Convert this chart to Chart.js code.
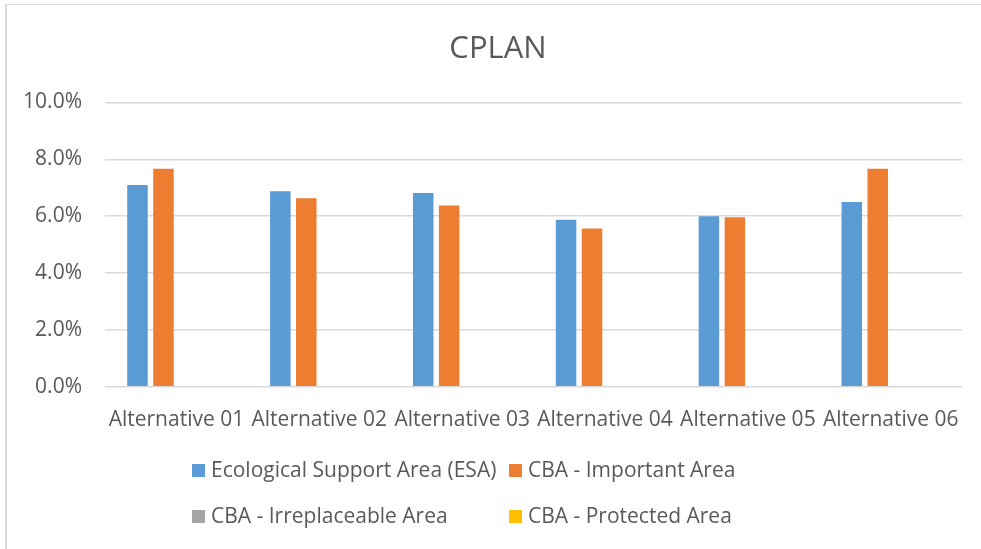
<!DOCTYPE html>
<html>
<head>
<meta charset="utf-8">
<script src="https://cdn.jsdelivr.net/npm/chart.js@4/dist/chart.umd.min.js"></script>
<style>
  html, body { margin: 0; padding: 0; background: #ffffff; }
  #wrap { position: absolute; left: 0; top: 0; width: 981px; height: 549px; }
</style>
</head>
<body>
<div id="wrap"><canvas id="c" width="981" height="549"></canvas></div>
<script>
// ---- data ----
const chartTitle = "CPLAN";
const categories = ["Alternative 01", "Alternative 02", "Alternative 03", "Alternative 04", "Alternative 05", "Alternative 06"];
const seriesNames = ["Ecological Support Area (ESA)", "CBA - Important Area", "CBA - Irreplaceable Area", "CBA - Protected Area"];
const esaValues = [7.10, 6.88, 6.82, 5.87, 6.00, 6.50];
const importantValues = [7.67, 6.63, 6.38, 5.57, 5.96, 7.67];
const irreplaceableValues = [0, 0, 0, 0, 0, 0];
const protectedValues = [0, 0, 0, 0, 0, 0];
const yTicks = [0, 2, 4, 6, 8, 10];
const seriesColors = ["#5B9BD5", "#ED7D31", "#A5A5A5", "#FFC000"];

const FONT = "'Open Sans', sans-serif";
const TEXT = "#595959";
const GRID = "#d9d9d9";

const frame = {
  id: 'frame',
  beforeDraw(chart) {
    const ctx = chart.ctx;
    ctx.save();
    ctx.fillStyle = '#ffffff';
    ctx.fillRect(0, 0, chart.width, chart.height);
    ctx.fillStyle = GRID;
    ctx.fillRect(5, 4, 2, chart.height - 4);
    ctx.fillRect(5, 4, chart.width - 5, 1);
    ctx.restore();
  },
  afterDraw(chart) {
    const ctx = chart.ctx;
    ctx.save();
    ctx.font = "31px " + FONT;
    ctx.fillStyle = TEXT;
    ctx.textAlign = 'center';
    ctx.textBaseline = 'middle';
    ctx.fillText(chartTitle, 498, 49);
    ctx.restore();
  }
};

const customLegend = {
  id: 'customLegend',
  afterDraw(chart) {
    const ctx = chart.ctx;
    const cols = [192, 509];
    const rows = [471, 517];
    ctx.save();
    ctx.font = "21px " + FONT;
    ctx.textBaseline = 'middle';
    ctx.textAlign = 'left';
    chart.data.datasets.forEach((ds, i) => {
      const x = cols[i % 2];
      const y = rows[Math.floor(i / 2)];
      ctx.fillStyle = ds.backgroundColor;
      ctx.fillRect(x, y - 7, 13, 13);
      ctx.fillStyle = TEXT;
      ctx.fillText(ds.label, x + 19, y);
    });
    ctx.restore();
  }
};

const datasets = [esaValues, importantValues, irreplaceableValues, protectedValues].map((vals, i) => ({
  label: seriesNames[i],
  data: vals,
  backgroundColor: seriesColors[i],
  borderWidth: 0,
  categoryPercentage: 0.727,
  barPercentage: 0.79
}));

new Chart(document.getElementById('c'), {
  type: 'bar',
  data: { labels: categories, datasets },
  options: {
    responsive: false,
    animation: false,
    devicePixelRatio: 1,
    layout: { padding: { left: 8, right: 18, top: 102.5, bottom: 112.3 } },
    plugins: {
      legend: { display: false },
      tooltip: { enabled: false },
      title: { display: false }
    },
    scales: {
      x: {
        grid: { display: false, drawTicks: false },
        border: { display: false },
        ticks: {
          color: TEXT,
          font: { family: FONT, size: 21 },
          padding: 21,
          autoSkip: false,
          maxRotation: 0,
          minRotation: 0
        },
        afterFit(scale) { scale.height = 50; }
      },
      y: {
        min: yTicks[0],
        max: yTicks[yTicks.length - 1],
        afterBuildTicks(scale) { scale.ticks = yTicks.map(v => ({ value: v })); },
        grid: { color: GRID, lineWidth: 1.5, drawTicks: false },
        border: { display: false },
        ticks: {
          color: TEXT,
          font: { family: FONT, size: 21 },
          padding: 23,
          callback: v => v.toFixed(1) + "%"
        },
        afterFit(scale) { scale.width = 97; }
      }
    }
  },
  plugins: [frame, customLegend]
});
</script>
</body>
</html>
